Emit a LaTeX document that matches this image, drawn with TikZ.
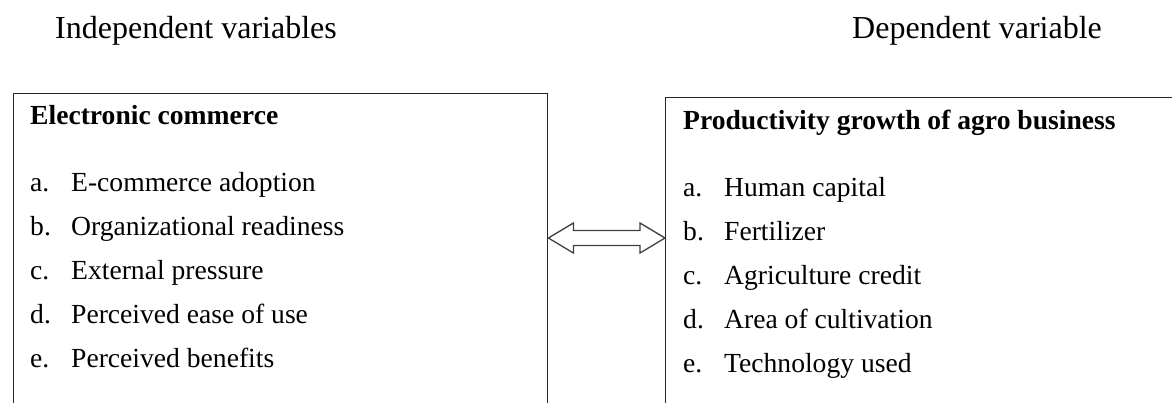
\documentclass[tikz,border=0pt]{standalone}
\usepackage{fontspec}
\setmainfont{Liberation Serif}
\usetikzlibrary{calc}
\begin{document}
\begin{tikzpicture}[x=1pt,y=-1pt,
  box/.style={draw=black!85, line width=1.4pt, inner sep=0pt, anchor=north west},
  hdr/.style={anchor=base west, inner sep=0pt, font=\fontsize{32}{38}\selectfont},
  ttl/.style={anchor=base west, inner sep=0pt, font=\fontsize{27.6}{33}\selectfont\bfseries},
  item/.style={anchor=base west, inner sep=0pt, font=\fontsize{27.6}{33}\selectfont},
  dbl/.style={draw=black!75, line width=1.3pt, fill=white, line join=miter}]
\useasboundingbox (0,0) rectangle (1172,402);
\clip (0,0) rectangle (1172,402);
% boxes (open at bottom / right as in the reference crop)
\node[box, minimum width=534pt, minimum height=340pt] (lbox) at (13,93) {};
\node[box, minimum width=540pt, minimum height=340pt] (rbox) at (665,97) {};
% headers
\node[hdr] (indep) at (55,38) {Independent variables};
\node[hdr] (dep) at (852,38) {Dependent variable};
% left box content
\node[ttl] (ltitle) at (30,124) {Electronic commerce};
\node[item] (la) at (30,191) {\makebox[41pt][l]{a.}E-commerce adoption};
\node[item] (lb) at (30,235) {\makebox[41pt][l]{b.}Organizational readiness};
\node[item] (lc) at (30,279) {\makebox[41pt][l]{c.}External pressure};
\node[item] (ld) at (30,323) {\makebox[41pt][l]{d.}Perceived ease of use};
\node[item] (le) at (30,367) {\makebox[41pt][l]{e.}Perceived benefits};
% right box content
\node[ttl] (rtitle) at (683,129) {Productivity growth of agro business};
\node[item] (ra) at (683,196) {\makebox[41pt][l]{a.}Human capital};
\node[item] (rb) at (683,240) {\makebox[41pt][l]{b.}Fertilizer};
\node[item] (rc) at (683,284) {\makebox[41pt][l]{c.}Agriculture credit};
\node[item] (rd) at (683,328) {\makebox[41pt][l]{d.}Area of cultivation};
\node[item] (re) at (683,372) {\makebox[41pt][l]{e.}Technology used};
% double arrow between the boxes
\coordinate (ay) at (0,238);
\coordinate (tl) at (lbox.east |- ay);
\coordinate (tr) at (rbox.west |- ay);
\draw[dbl] (tl) -- ($(tl)+(25,-15)$) -- ($(tl)+(25,-7.5)$) -- ($(tr)+(-25,-7.5)$)
  -- ($(tr)+(-25,-15)$) -- (tr) -- ($(tr)+(-25,15)$) -- ($(tr)+(-25,7.5)$)
  -- ($(tl)+(25,7.5)$) -- ($(tl)+(25,15)$) -- cycle;
\end{tikzpicture}
\end{document}
